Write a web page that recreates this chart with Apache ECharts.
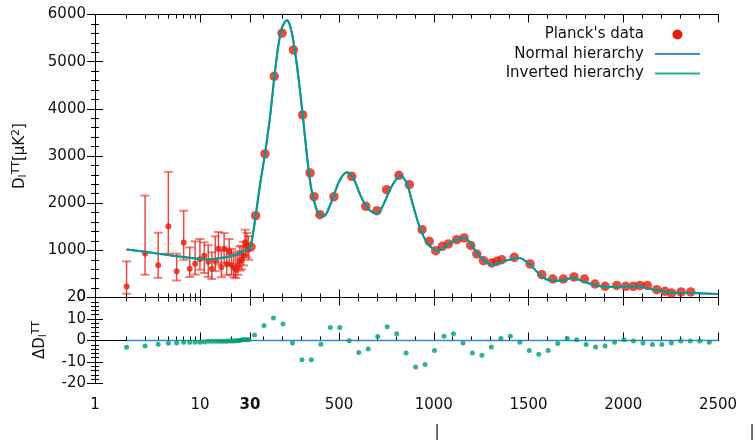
<!DOCTYPE html>
<html><head><meta charset="utf-8">
<script src="https://cdn.jsdelivr.net/npm/echarts@6/dist/echarts.min.js"></script>
<style>html,body{margin:0;padding:0;background:#fff}#c{width:755px;height:440px}</style>
</head><body><div id="c"></div>
<script>
// ---------------- data ----------------
const lowL  = [2,3,4,5,6,7,8,9,10,11,12,13,14,15,16,17,18,19,20,21,22,23,24,25,26,27,28,29];
const lowD  = [235,932,684,1510,556,1166,611,717,810,887,760,611,774,1035,639,1035,703,965,689,625,590,675,766,802,887,1169,1084,1014];
const lowHi = [766,2160,1373,2665,930,1840,1063,1190,1240,1169,1110,960,1297,1390,1000,1368,1040,1240,1029,950,900,980,1080,1100,1180,1438,1370,1300];
const lowLo = [80,483,417,930,360,800,435,484,590,520,435,392,560,696,430,732,480,696,480,430,410,480,570,600,680,900,850,800];

const highL = [35,60,109,158,199,259,308,347,368,399,473,567,641,700,751,816,871,938,976,1010,1045,1077,1121,1160,1195,1227,1262,1306,1332,1358,1425,1508,1570,1628,1684,1740,1795,1851,1904,1966,2013,2053,2088,2127,2177,2220,2255,2305,2356];
const highD = [1075,1735,3044,4690,5603,5250,3871,2641,2138,1756,2138,2569,1933,1841,2287,2590,2393,1438,1190,993,1084,1135,1226,1262,1105,922,780,732,766,802,851,711,484,392,392,435,392,286,236,257,236,236,257,257,165,130,95,117,117];

const curveL = [2,3,4,5,6,8,10,12,15,20,25,29,30,45,60,83,109,136,158,179,197,212,224,241,259,285,308,329,351,373,390,414,435,470,505,543,575,611,646,681,702,734,778,825,857,892,927,963,998,1024,1059,1103,1156,1191,1227,1270,1314,1367,1410,1451,1508,1570,1623,1676,1729,1789,1860,1947,2010,2071,2159,2247,2370,2500];
const normalD = [1020,970,930,900,875,845,817,812,830,880,960,1040,1050,1330,1735,2393,3044,3842,4656,5327,5696,5830,5878,5766,5433,4690,3878,3065,2357,1969,1792,1720,1792,2145,2499,2654,2535,2181,1920,1792,1778,1969,2357,2584,2429,1933,1474,1169,1029,999,1084,1190,1262,1169,944,766,696,766,810,838,696,448,356,356,414,342,250,223,228,236,165,108,95,74];
const invertedD = normalD.slice();

const resNormalL = [2,2500];
const resNormalD = [0,0];
const resL = [2,3,4,5,6,7,8,9,10,11,12,13,14,15,16,17,18,19,20,21,22,23,24,25,26,27,28,29,
  54,104,154,204,254,304,354,404,454,504,554,604,654,704,754,804,854,904,954,1004,1054,1104,1154,1204,1254,1304,1354,1404,1454,1504,1554,1604,1654,1704,1754,1804,1854,1904,1954,2004,2054,2104,2154,2204,2254,2304,2354,2404,2454];
const resD = [-3.1,-2.5,-1.7,-1.3,-1.2,-0.8,-0.8,-0.8,-0.8,-0.7,-0.3,-0.3,-0.3,-0.3,-0.3,-0.3,-0.3,-0.2,-0.2,-0.2,-0.1,-0.1,0,0.3,0.4,0.4,0.4,0.4,
  2.6,7.0,10.5,7.7,-1.2,-9.0,-9.0,-1.7,6.1,6.1,-0.1,-5.6,-4.0,1.9,6.4,3.1,-5.8,-12.3,-11.2,-4.7,2.0,3.1,-1.2,-5.8,-6.9,-3.0,0.9,2.0,-0.8,-4.7,-6.4,-4.7,-1.4,0.9,0.3,-1.9,-3.0,-2.5,-0.8,0.3,-0.2,-1.2,-1.9,-1.9,-1.2,-0.2,-0.2,-0.2,-0.8];

const xMajorL = [1,10,30,500,1000,1500,2000,2500];
const xMinorL = [2,3,4,5,6,7,8,9,20,100,200,300,400,600,700,800,900,1100,1200,1300,1400,1600,1700,1800,1900,2100,2200,2300,2400];

// ------------- hybrid axis transform (log below 30, linear above) -------------
const LOG_PX = 155, LIN_PX = 468;
const T30 = Math.log10(30);
const K = (LIN_PX / 2470) / (LOG_PX / T30);
function toT(l){ return l <= 30 ? Math.log10(l) : T30 + (l - 30) * K; }
const TMAX = toT(2500);

const FONT = 'DejaVu Sans';
const RED = '#e51e10';
const TEAL = '#0a9a8a';
const BLUE = '#2f8ac6';
const GREEN = '#009e73';

const majorT = xMajorL.map(toT);
const minorT = xMinorL.map(toT);

function labelFmt(v){
  let best = 0, bd = 1e9;
  majorT.forEach((t,i)=>{ const d = Math.abs(t - v); if (d < bd){ bd = d; best = i; } });
  const l = xMajorL[best];
  return l === 30 ? '{b|30}' : String(l);
}

function xAxes(gi, labels){
  const line = {show:true, lineStyle:{color:'#000', width:1}};
  const base = {type:'value', gridIndex:gi, min:0, max:TMAX, splitLine:{show:false}, axisLine:line};
  const major = {show:true, inside:true, length:8, customValues:majorT, lineStyle:{color:'#000', width:1}};
  const minor = {show:true, inside:true, length:4, customValues:minorT, lineStyle:{color:'#000', width:1}};
  return [
    Object.assign({}, base, {position:'bottom', axisTick:major,
      axisLabel: labels ? {show:true, customValues:majorT, formatter:labelFmt, fontSize:15, fontFamily:FONT, color:'#111', margin:14,
        rich:{b:{fontSize:15, fontFamily:FONT, fontWeight:'bold', color:'#111'}}} : {show:false}}),
    Object.assign({}, base, {position:'bottom', axisTick:minor, axisLabel:{show:false}}),
    Object.assign({}, base, {position:'top', axisTick:major, axisLabel:{show:false}}),
    Object.assign({}, base, {position:'top', axisTick:minor, axisLabel:{show:false}})
  ];
}

function yAxes(gi, min, max, interval){
  const common = {type:'value', gridIndex:gi, min, max, interval, splitLine:{show:false},
    axisLine:{show:true, lineStyle:{color:'#000', width:1}},
    axisTick:{show:true, inside:true, length:8, lineStyle:{color:'#000'}},
    minorTick:{show:true, splitNumber:5, length:4, lineStyle:{color:'#000'}}};
  return [
    Object.assign({}, common, {position:'left', axisLabel:{show:true, fontSize:15, fontFamily:FONT, color:'#111', margin:9,
      formatter:function(v){ return String(v); }}}),
    Object.assign({}, common, {position:'right', axisLabel:{show:false}})
  ];
}

const chart = echarts.init(document.getElementById('c'), null, {renderer:'canvas'});
const LINE_ICON = 'path://M0,0h45v2h-45z';

const option = {
  animation:false,
  backgroundColor:'#fff',
  textStyle:{fontFamily:FONT},
  grid:[
    {left:95, top:14.5, width:LOG_PX+LIN_PX, height:283, outerBoundsMode:'none'},
    {left:95, top:297.5, width:LOG_PX+LIN_PX, height:86, outerBoundsMode:'none'}
  ],
  xAxis: xAxes(0,false).concat(xAxes(1,true)),
  yAxis: yAxes(0,0,6000,1000).concat(yAxes(1,-20,20,10)),
  legend:{
    right:50, top:22, orient:'vertical', align:'right', itemWidth:45, itemHeight:10, itemGap:4.5,
    textStyle:{fontSize:15, fontFamily:FONT, color:'#111', padding:[0,6,0,0]},
    data:[
      {name:"Planck's data", icon:'circle', itemStyle:{color:RED}},
      {name:'Normal hierarchy', icon:LINE_ICON, itemStyle:{color:'#3d93cc'}},
      {name:'Inverted hierarchy', icon:LINE_ICON, itemStyle:{color:'#25b096'}}
    ]
  },
  graphic:[
    {type:'text', x:20, y:156, rotation:Math.PI/2, silent:true,
      style:{text:'D{sub|l}{sup|TT}[μK{sup|2}]', fontSize:15, fontFamily:FONT, fill:'#111', align:'center', verticalAlign:'middle', lineHeight:18,
        rich:{sub:{fontSize:11, fontFamily:FONT, fill:'#111', verticalAlign:'bottom', lineHeight:11},
              sup:{fontSize:11, fontFamily:FONT, fill:'#111', verticalAlign:'top', lineHeight:11}}}},
    {type:'text', x:40, y:340, rotation:Math.PI/2, silent:true,
      style:{text:'ΔD{sub|l}{sup|TT}', fontSize:15, fontFamily:FONT, fill:'#111', align:'center', verticalAlign:'middle', lineHeight:18,
        rich:{sub:{fontSize:11, fontFamily:FONT, fill:'#111', verticalAlign:'bottom', lineHeight:11},
              sup:{fontSize:11, fontFamily:FONT, fill:'#111', verticalAlign:'top', lineHeight:11}}}},
    {type:'text', x:437, y:432, silent:true, style:{text:'|', fontSize:15, fontFamily:FONT, fill:'#111', align:'center', verticalAlign:'middle'}},
    {type:'text', x:752, y:432, silent:true, style:{text:'|', fontSize:15, fontFamily:FONT, fill:'#111', align:'center', verticalAlign:'middle'}}
  ],
  series:[
    {name:"Planck's data", type:'custom', xAxisIndex:0, yAxisIndex:0,
      data: lowL.map((l,i)=>[toT(l), lowLo[i], lowHi[i]]),
      encode:{x:0, y:[1,2]},
      renderItem:function(params, api){
        const x = api.value(0);
        const pLo = api.coord([x, api.value(1)]);
        const pHi = api.coord([x, api.value(2)]);
        const w = 4.5;
        const vs = {stroke:'rgba(229,30,16,0.8)', lineWidth:1.5, fill:null};
        const cs = {stroke:'rgba(229,30,16,0.55)', lineWidth:2, fill:null};
        return {type:'group', children:[
          {type:'line', shape:{x1:pLo[0], y1:pLo[1], x2:pHi[0], y2:pHi[1]}, style:vs},
          {type:'line', shape:{x1:pLo[0]-w, y1:pLo[1], x2:pLo[0]+w, y2:pLo[1]}, style:cs},
          {type:'line', shape:{x1:pHi[0]-w, y1:pHi[1], x2:pHi[0]+w, y2:pHi[1]}, style:cs}
        ]};
      }, z:2},
    {name:"Planck's data", type:'scatter', xAxisIndex:0, yAxisIndex:0, symbol:'circle', symbolSize:6,
      itemStyle:{color:RED}, data: lowL.map((l,i)=>[toT(l), lowD[i]]), z:3},
    {name:"Planck's data", type:'scatter', xAxisIndex:0, yAxisIndex:0, symbol:'circle', symbolSize:9.5,
      itemStyle:{color:RED}, data: highL.map((l,i)=>[toT(l), highD[i]]), z:3},
    {name:'Normal hierarchy', type:'line', xAxisIndex:0, yAxisIndex:0, symbol:'none', smooth:0.3,
      lineStyle:{color:BLUE, width:2}, itemStyle:{color:BLUE},
      data: curveL.map((l,i)=>[toT(l), normalD[i]]), z:4},
    {name:'Inverted hierarchy', type:'line', xAxisIndex:0, yAxisIndex:0, symbol:'none', smooth:0.3,
      lineStyle:{color:TEAL, width:2}, itemStyle:{color:TEAL},
      data: curveL.map((l,i)=>[toT(l), invertedD[i]]), z:5},
    {name:'Normal hierarchy', type:'line', xAxisIndex:4, yAxisIndex:2, symbol:'none',
      lineStyle:{color:BLUE, width:1.5}, itemStyle:{color:BLUE},
      data: resNormalL.map((l,i)=>[toT(l), resNormalD[i]]), z:4},
    {name:'Inverted hierarchy', type:'scatter', xAxisIndex:4, yAxisIndex:2, symbol:'circle', symbolSize:5,
      itemStyle:{color:GREEN}, data: resL.map((l,i)=>[toT(l), resD[i]]), z:5}
  ]
};
chart.setOption(option);
</script></body></html>
